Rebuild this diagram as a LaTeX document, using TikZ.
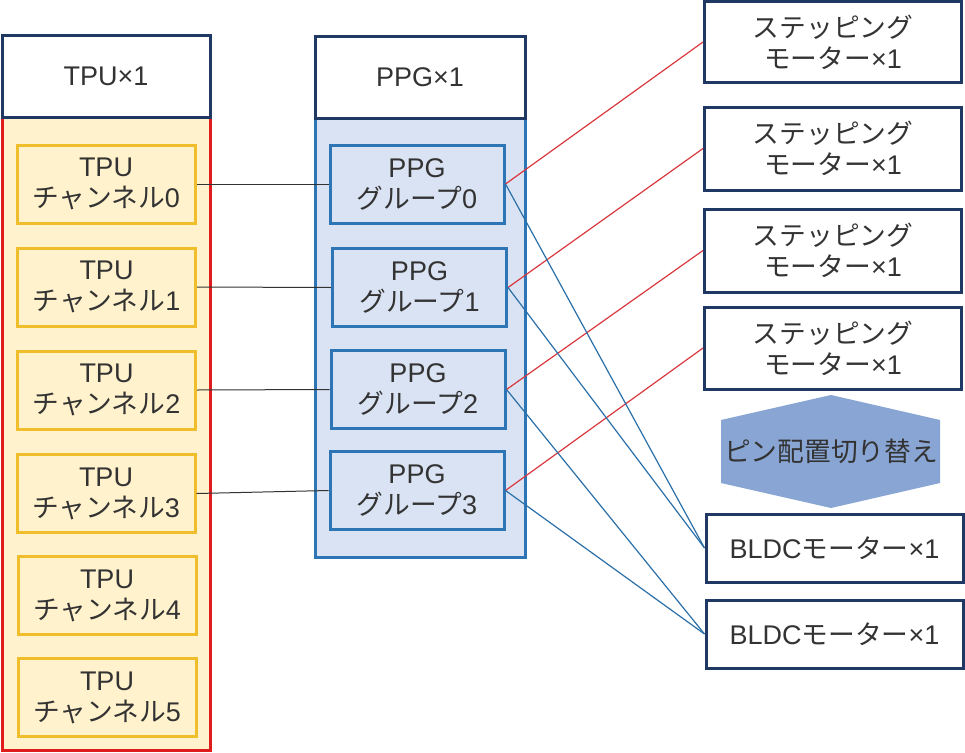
\documentclass[tikz,border=0pt]{standalone}
\usepackage{fontspec}
\setmainfont{Liberation Sans}
\newfontfamily\cjk[Scale=0.99]{Noto Sans CJK JP}
\definecolor{navy}{HTML}{1F3864}
\definecolor{txt}{HTML}{333333}
\definecolor{tpufill}{HTML}{FFF2CC}
\definecolor{tpured}{HTML}{E01B1B}
\definecolor{gold}{HTML}{F0BE2A}
\definecolor{ppgfill}{HTML}{DAE3F3}
\definecolor{ppgblue}{HTML}{2E75B6}
\definecolor{hexfill}{HTML}{88A5D4}
\definecolor{redline}{HTML}{D9383F}
\definecolor{blueline}{HTML}{2A6FA8}
\tikzset{
  base/.style={inner sep=0pt, align=center, text=txt, font=\fontsize{27}{31}\selectfont},
  head/.style={base, draw=navy, line width=3pt, fill=white},
  tpubody/.style={draw=tpured, line width=3pt, fill=tpufill},
  chan/.style={base, draw=gold, line width=3pt, fill=tpufill, minimum width=178pt, minimum height=78pt},
  ppgbody/.style={draw=ppgblue, line width=3pt, fill=ppgfill},
  grp/.style={base, draw=ppgblue, line width=3pt, fill=ppgfill, minimum width=174pt, minimum height=78pt},
  motor/.style={base, draw=navy, line width=3pt, fill=white, minimum width=257pt},
  blk/.style={draw=black!80, line width=1pt},
  redl/.style={draw=redline, line width=1.2pt},
  bluel/.style={draw=blueline, line width=1.2pt},
}
\begin{document}
\begin{tikzpicture}[x=1pt,y=-1pt]
\useasboundingbox (0,0) rectangle (965,752);
% TPU block
\node[tpubody, minimum width=208pt, minimum height=633pt] (tpub) at (106,433.5) {};
\node[head, minimum width=208pt, minimum height=81pt] (tpuh) at (106,76.5) {TPU×1};
\node[chan] (c0) at (106,184) {TPU\\{\cjk チャンネル}0};
\node[chan] (c1) at (106.5,287) {TPU\\{\cjk チャンネル}1};
\node[chan] (c2) at (106.5,390) {TPU\\{\cjk チャンネル}2};
\node[chan] (c3) at (106,493.5) {TPU\\{\cjk チャンネル}3};
\node[chan] (c4) at (107,595.5) {TPU\\{\cjk チャンネル}4};
\node[chan] (c5) at (107,697.5) {TPU\\{\cjk チャンネル}5};
% PPG block
\node[ppgbody, minimum width=210pt, minimum height=439pt] (ppgb) at (420,337.5) {};
\node[head, minimum width=210pt, minimum height=81pt] (ppgh) at (420,77.5) {PPG×1};
\node[grp] (g0) at (417,184) {PPG\\{\cjk グループ}0};
\node[grp] (g1) at (419.5,287.5) {PPG\\{\cjk グループ}1};
\node[grp] (g2) at (418,389.5) {PPG\\{\cjk グループ}2};
\node[grp] (g3) at (417,490.5) {PPG\\{\cjk グループ}3};
% Motors
\node[motor, minimum height=80pt] (s1) at (833,42) {{\cjk ステッピング}\\{\cjk モーター}×1};
\node[motor, minimum height=83pt] (s2) at (833,148.5) {{\cjk ステッピング}\\{\cjk モーター}×1};
\node[motor, minimum height=83pt] (s3) at (833,250.5) {{\cjk ステッピング}\\{\cjk モーター}×1};
\node[motor, minimum height=82pt] (s4) at (833,348) {{\cjk ステッピング}\\{\cjk モーター}×1};
\node[motor, minimum height=68pt] (b1) at (834.5,548) {BLDC{\cjk モーター}×1};
\node[motor, minimum height=68pt] (b2) at (834.5,634) {BLDC{\cjk モーター}×1};
% Hexagon
\fill[hexfill] (721,420) -- (831,395) -- (940,420) -- (940,483) -- (831,508) -- (721,483) -- cycle;
\node[base] (hex) at (831,451) {\cjk ピン配置切り替え};
% connectors
\draw[blk] (c0.east) -- (g0.west);
\draw[blk] (c1.east) -- (g1.west);
\draw[blk] (c2.east) -- (g2.west);
\draw[blk] (c3.east) -- (g3.west);
\draw[redl] (g0.east) -- (s1.west);
\draw[redl] (g1.east) -- (s2.west);
\draw[redl] (g2.east) -- (s3.west);
\draw[redl] (g3.east) -- (s4.west);
\draw[bluel] (g0.east) -- (b1.west);
\draw[bluel] (g1.east) -- (b1.west);
\draw[bluel] (g2.east) -- (b2.west);
\draw[bluel] (g3.east) -- (b2.west);
\end{tikzpicture}
\end{document}
